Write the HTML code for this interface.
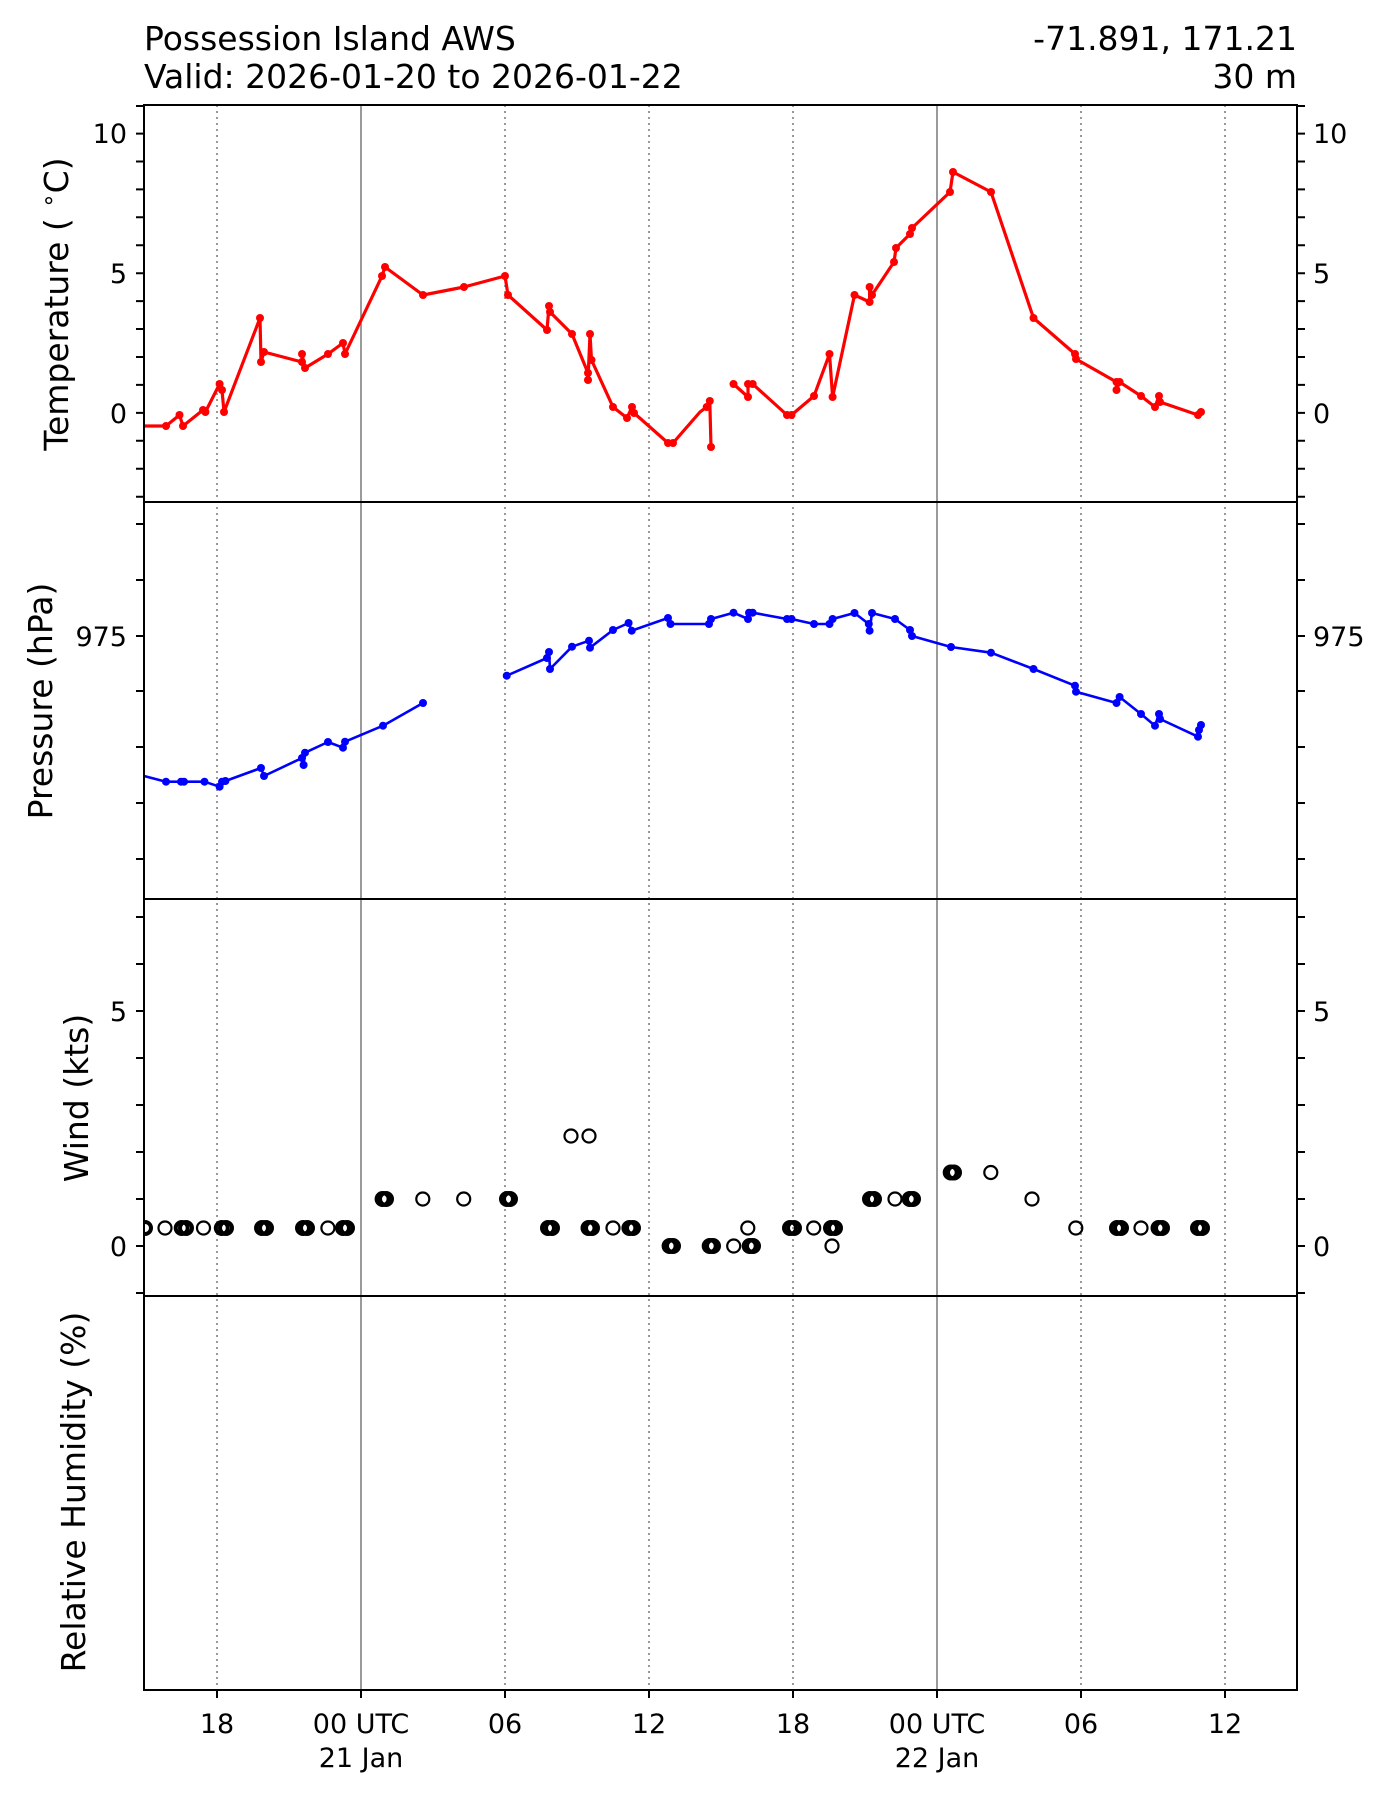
<!DOCTYPE html>
<html><head><meta charset="utf-8"><style>
html,body{margin:0;padding:0;background:#fff;}
svg{display:block;font-family:"DejaVu Sans","Liberation Sans",sans-serif;}
</style></head><body>
<svg width="1400" height="1800" viewBox="0 0 1400 1800" xmlns="http://www.w3.org/2000/svg">
<rect width="1400" height="1800" fill="#fff"/>
<!-- titles -->
<text x="144" y="50" font-size="33">Possession Island AWS</text>
<text x="144" y="88" font-size="33">Valid: 2026-01-20 to 2026-01-22</text>
<text x="1297" y="50" font-size="33" text-anchor="end">-71.891, 171.21</text>
<text x="1297" y="88" font-size="33" text-anchor="end">30 m</text>

<!-- grid verticals -->
<g stroke="#808080" stroke-width="1.6" stroke-dasharray="2,4">
<line x1="217" y1="105" x2="217" y2="1690"/>
<line x1="505" y1="105" x2="505" y2="1690"/>
<line x1="649" y1="105" x2="649" y2="1690"/>
<line x1="793" y1="105" x2="793" y2="1690"/>
<line x1="1081" y1="105" x2="1081" y2="1690"/>
<line x1="1225" y1="105" x2="1225" y2="1690"/>
</g>
<g stroke="#808080" stroke-width="1.6">
<line x1="361" y1="105" x2="361" y2="1690"/>
<line x1="937" y1="105" x2="937" y2="1690"/>
</g>

<!-- temperature -->
<g fill="none" stroke="#ff0000" stroke-width="3.2" stroke-linejoin="round">
<polyline points="144,426 166,426 179.5,415 183,426 203,410 205.4,412 219.6,384 222,390 224,412 260,318 261,362 264,352 302,362 302,354 305,368 328,354 343,343 345,354 382,276 385,267 423,295 464,287 505,276 508,295 547,330 549,306 550,312 572,334 588,373 588,380 590,334 591.5,360 613,407 627,418 632,407 634,413 668,443 673,443 700,412 706.7,407 709.8,401 711,447"/>
<polyline points="733.5,384 748,397 748,384 752.7,384 787,415 791.5,415 814,396 829.5,354 832.6,397 854.5,295 869.6,302 869.6,287 872,295 894,262 896,248 910,234 912,228 950,192 953,172 991,192 1033.5,318 1075,354 1076,359 1116.5,382 1116.5,390 1119.6,382 1141,396 1155,407 1159,396 1160,402 1198,415 1201,412"/>
</g>
<g fill="#ff0000">
<circle cx="166" cy="426" r="4"/><circle cx="179.5" cy="415" r="4"/><circle cx="183" cy="426" r="4"/><circle cx="203" cy="410" r="4"/><circle cx="205.4" cy="412" r="4"/><circle cx="219.6" cy="384" r="4"/><circle cx="222" cy="390" r="4"/><circle cx="224" cy="412" r="4"/><circle cx="260" cy="318" r="4"/><circle cx="261" cy="362" r="4"/><circle cx="264" cy="352" r="4"/><circle cx="302" cy="362" r="4"/><circle cx="302" cy="354" r="4"/><circle cx="305" cy="368" r="4"/><circle cx="328" cy="354" r="4"/><circle cx="343" cy="343" r="4"/><circle cx="345" cy="354" r="4"/><circle cx="382" cy="276" r="4"/><circle cx="385" cy="267" r="4"/><circle cx="423" cy="295" r="4"/><circle cx="464" cy="287" r="4"/><circle cx="505" cy="276" r="4"/><circle cx="508" cy="295" r="4"/><circle cx="547" cy="330" r="4"/><circle cx="549" cy="306" r="4"/><circle cx="550" cy="312" r="4"/><circle cx="572" cy="334" r="4"/><circle cx="588" cy="373" r="4"/><circle cx="588" cy="380" r="4"/><circle cx="590" cy="334" r="4"/><circle cx="591.5" cy="360" r="4"/><circle cx="613" cy="407" r="4"/><circle cx="627" cy="418" r="4"/><circle cx="632" cy="407" r="4"/><circle cx="634" cy="413" r="4"/><circle cx="668" cy="443" r="4"/><circle cx="673" cy="443" r="4"/><circle cx="706.7" cy="407" r="4"/><circle cx="709.8" cy="401" r="4"/><circle cx="711" cy="447" r="4"/>
<circle cx="733.5" cy="384" r="4"/><circle cx="748" cy="397" r="4"/><circle cx="748" cy="384" r="4"/><circle cx="752.7" cy="384" r="4"/><circle cx="787" cy="415" r="4"/><circle cx="791.5" cy="415" r="4"/><circle cx="814" cy="396" r="4"/><circle cx="829.5" cy="354" r="4"/><circle cx="832.6" cy="397" r="4"/><circle cx="854.5" cy="295" r="4"/><circle cx="869.6" cy="302" r="4"/><circle cx="869.6" cy="287" r="4"/><circle cx="872" cy="295" r="4"/><circle cx="894" cy="262" r="4"/><circle cx="896" cy="248" r="4"/><circle cx="910" cy="234" r="4"/><circle cx="912" cy="228" r="4"/><circle cx="950" cy="192" r="4"/><circle cx="953" cy="172" r="4"/><circle cx="991" cy="192" r="4"/><circle cx="1033.5" cy="318" r="4"/><circle cx="1075" cy="354" r="4"/><circle cx="1076" cy="359" r="4"/><circle cx="1116.5" cy="382" r="4"/><circle cx="1116.5" cy="390" r="4"/><circle cx="1119.6" cy="382" r="4"/><circle cx="1141" cy="396" r="4"/><circle cx="1155" cy="407" r="4"/><circle cx="1159" cy="396" r="4"/><circle cx="1160" cy="402" r="4"/><circle cx="1198" cy="415" r="4"/><circle cx="1201" cy="412" r="4"/>
</g>

<!-- pressure -->
<g fill="none" stroke="#0000ff" stroke-width="2.6" stroke-linejoin="round">
<polyline points="144,776 166,781.7 181,781.7 184,781.7 204.5,781.7 219.6,786.7 222,781.7 225.4,781 261,768 264,776 302,758 303.6,765 305,752.7 328,742 343,747.7 345,741.7 383,725.7 423,703"/>
<polyline points="506.7,675.7 547,658 549,652 550,669 572,646.7 589,640.7 590,647.7 613,630 628.6,623 631.7,630.7 668,618 670.5,624 709,624 711,619 733.5,612.7 748,619 749,612.7 752.7,612.7 787,619 791.5,619 814,624 829.5,624 832.6,619 854.5,613 868.8,624 869.6,630.7 872,613 895,619 910,630 912,636 951,647 991,652.7 1033.5,669 1075,685.7 1076,691.7 1116.5,703 1119.6,697 1141,714 1155,725.7 1159,714 1160,719 1198,736.7 1199,730 1201,725"/>
</g>
<g fill="#0000ff">
<circle cx="166" cy="781.7" r="4"/><circle cx="181" cy="781.7" r="4"/><circle cx="184" cy="781.7" r="4"/><circle cx="204.5" cy="781.7" r="4"/><circle cx="219.6" cy="786.7" r="4"/><circle cx="222" cy="781.7" r="4"/><circle cx="225.4" cy="781" r="4"/><circle cx="261" cy="768" r="4"/><circle cx="264" cy="776" r="4"/><circle cx="302" cy="758" r="4"/><circle cx="303.6" cy="765" r="4"/><circle cx="305" cy="752.7" r="4"/><circle cx="328" cy="742" r="4"/><circle cx="343" cy="747.7" r="4"/><circle cx="345" cy="741.7" r="4"/><circle cx="383" cy="725.7" r="4"/><circle cx="423" cy="703" r="4"/>
<circle cx="506.7" cy="675.7" r="4"/><circle cx="547" cy="658" r="4"/><circle cx="549" cy="652" r="4"/><circle cx="550" cy="669" r="4"/><circle cx="572" cy="646.7" r="4"/><circle cx="589" cy="640.7" r="4"/><circle cx="590" cy="647.7" r="4"/><circle cx="613" cy="630" r="4"/><circle cx="628.6" cy="623" r="4"/><circle cx="631.7" cy="630.7" r="4"/><circle cx="668" cy="618" r="4"/><circle cx="670.5" cy="624" r="4"/><circle cx="709" cy="624" r="4"/><circle cx="711" cy="619" r="4"/><circle cx="733.5" cy="612.7" r="4"/><circle cx="748" cy="619" r="4"/><circle cx="749" cy="612.7" r="4"/><circle cx="752.7" cy="612.7" r="4"/><circle cx="787" cy="619" r="4"/><circle cx="791.5" cy="619" r="4"/><circle cx="814" cy="624" r="4"/><circle cx="829.5" cy="624" r="4"/><circle cx="832.6" cy="619" r="4"/><circle cx="854.5" cy="613" r="4"/><circle cx="868.8" cy="624" r="4"/><circle cx="869.6" cy="630.7" r="4"/><circle cx="872" cy="613" r="4"/><circle cx="895" cy="619" r="4"/><circle cx="910" cy="630" r="4"/><circle cx="912" cy="636" r="4"/><circle cx="951" cy="647" r="4"/><circle cx="991" cy="652.7" r="4"/><circle cx="1033.5" cy="669" r="4"/><circle cx="1075" cy="685.7" r="4"/><circle cx="1076" cy="691.7" r="4"/><circle cx="1116.5" cy="703" r="4"/><circle cx="1119.6" cy="697" r="4"/><circle cx="1141" cy="714" r="4"/><circle cx="1155" cy="725.7" r="4"/><circle cx="1159" cy="714" r="4"/><circle cx="1160" cy="719" r="4"/><circle cx="1198" cy="736.7" r="4"/><circle cx="1199" cy="730" r="4"/><circle cx="1201" cy="725" r="4"/>
</g>

<!-- wind -->
<g fill="none" stroke="#000" stroke-width="2.2">
<circle cx="165" cy="1228" r="6.5"/><circle cx="203.5" cy="1228" r="6.5"/><circle cx="327.9" cy="1228" r="6.5"/><circle cx="613" cy="1228" r="6.5"/><circle cx="747.8" cy="1228" r="6.5"/><circle cx="813.7" cy="1228" r="6.5"/><circle cx="1075.8" cy="1228" r="6.5"/><circle cx="1141" cy="1228" r="6.5"/>
<circle cx="422.8" cy="1199" r="6.5"/><circle cx="463.7" cy="1199" r="6.5"/><circle cx="895" cy="1199" r="6.5"/><circle cx="1032" cy="1199" r="6.5"/>
<circle cx="571" cy="1136" r="6.5"/><circle cx="589" cy="1136" r="6.5"/>
<circle cx="733.7" cy="1246" r="6.5"/><circle cx="832" cy="1246" r="6.5"/>
<circle cx="990.8" cy="1172.5" r="6.5"/>
</g>
<g fill="none" stroke="#000" stroke-width="4">
<circle cx="145" cy="1228" r="6"/><circle cx="181.7" cy="1228" r="6"/><circle cx="221.8" cy="1228" r="6"/><circle cx="262" cy="1228" r="6"/><circle cx="303" cy="1228" r="6"/><circle cx="343" cy="1228" r="6"/><circle cx="548" cy="1228" r="6"/><circle cx="588.5" cy="1228" r="6"/><circle cx="629.4" cy="1228" r="6"/><circle cx="790" cy="1228" r="6"/><circle cx="831" cy="1228" r="6"/><circle cx="1117" cy="1228" r="6"/><circle cx="1158.5" cy="1228" r="6"/><circle cx="1198" cy="1228" r="6"/>
<circle cx="382.6" cy="1199" r="6"/><circle cx="507" cy="1199" r="6"/><circle cx="870" cy="1199" r="6"/><circle cx="909.7" cy="1199" r="6"/>
<circle cx="669.6" cy="1246" r="6"/><circle cx="709.7" cy="1246" r="6"/><circle cx="749.7" cy="1246" r="6"/>
<circle cx="950.7" cy="1172.5" r="6"/>
</g>
<g fill="none" stroke="#000" stroke-width="4">
<circle cx="186" cy="1228" r="6"/><circle cx="226" cy="1228" r="6"/><circle cx="266" cy="1228" r="6"/><circle cx="307" cy="1228" r="6"/><circle cx="347" cy="1228" r="6"/><circle cx="552" cy="1228" r="6"/><circle cx="592" cy="1228" r="6"/><circle cx="633" cy="1228" r="6"/><circle cx="794" cy="1228" r="6"/><circle cx="835" cy="1228" r="6"/><circle cx="1121" cy="1228" r="6"/><circle cx="1162" cy="1228" r="6"/><circle cx="1202" cy="1228" r="6"/>
<circle cx="386" cy="1199" r="6"/><circle cx="510" cy="1199" r="6"/><circle cx="874" cy="1199" r="6"/><circle cx="913" cy="1199" r="6"/>
<circle cx="673" cy="1246" r="6"/><circle cx="713" cy="1246" r="6"/><circle cx="753" cy="1246" r="6"/>
<circle cx="954" cy="1172.5" r="6"/>
</g>
<rect x="0" y="1150" width="143" height="120" fill="#fff"/>

<!-- frames -->
<g fill="none" stroke="#000" stroke-width="2">
<rect x="144" y="105" width="1153" height="1585"/>
<line x1="144" y1="502" x2="1297" y2="502"/>
<line x1="144" y1="899" x2="1297" y2="899"/>
<line x1="144" y1="1296" x2="1297" y2="1296"/>
</g>

<!-- y ticks -->
<g stroke="#000" stroke-width="2">
<path d="M136,106H144M136,133.6H144M136,161.5H144M136,189.4H144M136,217.3H144M136,245.2H144M136,273.2H144M136,301.1H144M136,329H144M136,357H144M136,384.9H144M136,412.9H144M136,440.8H144M136,468.8H144M136,496.7H144"/>
<path d="M1297,106H1305M1297,133.6H1305M1297,161.5H1305M1297,189.4H1305M1297,217.3H1305M1297,245.2H1305M1297,273.2H1305M1297,301.1H1305M1297,329H1305M1297,357H1305M1297,384.9H1305M1297,412.9H1305M1297,440.8H1305M1297,468.8H1305M1297,496.7H1305"/>
<path d="M136,524H144M136,580H144M136,636H144M136,691H144M136,747H144M136,803H144M136,859H144"/>
<path d="M1297,524H1305M1297,580H1305M1297,636H1305M1297,691H1305M1297,747H1305M1297,803H1305M1297,859H1305"/>
<path d="M136,917H144M136,964H144M136,1011H144M136,1058H144M136,1105H144M136,1152H144M136,1199H144M136,1246H144M136,1293H144"/>
<path d="M1297,917H1305M1297,964H1305M1297,1011H1305M1297,1058H1305M1297,1105H1305M1297,1152H1305M1297,1199H1305M1297,1246H1305M1297,1293H1305"/>
<path d="M217,1690V1698M361,1690V1698M505,1690V1698M649,1690V1698M793,1690V1698M937,1690V1698M1081,1690V1698M1225,1690V1698"/>
</g>

<!-- tick labels -->
<g font-size="27">
<text x="127" y="143" text-anchor="end">10</text>
<text x="127" y="283" text-anchor="end">5</text>
<text x="127" y="423" text-anchor="end">0</text>
<text x="127" y="646" text-anchor="end">975</text>
<text x="127" y="1021" text-anchor="end">5</text>
<text x="127" y="1256" text-anchor="end">0</text>
<text x="1313" y="143">10</text>
<text x="1313" y="283">5</text>
<text x="1313" y="423">0</text>
<text x="1313" y="646">975</text>
<text x="1313" y="1021">5</text>
<text x="1313" y="1256">0</text>
</g>
<g font-size="27" text-anchor="middle">
<text x="217" y="1733">18</text>
<text x="361" y="1733">00 UTC</text>
<text x="361" y="1767">21 Jan</text>
<text x="505" y="1733">06</text>
<text x="649" y="1733">12</text>
<text x="793" y="1733">18</text>
<text x="937" y="1733">00 UTC</text>
<text x="937" y="1767">22 Jan</text>
<text x="1081" y="1733">06</text>
<text x="1225" y="1733">12</text>
</g>

<!-- axis labels -->
<g font-size="33" text-anchor="middle">
<text transform="translate(68,304) rotate(-90)">Temperature ( <tspan font-size="23" dy="-12">∘</tspan><tspan dy="12">C)</tspan></text>
<text transform="translate(52,701) rotate(-90)">Pressure (hPa)</text>
<text transform="translate(88,1098) rotate(-90)">Wind (kts)</text>
<text transform="translate(85,1492) rotate(-90)">Relative Humidity (%)</text>
</g>
</svg>
</body></html>
